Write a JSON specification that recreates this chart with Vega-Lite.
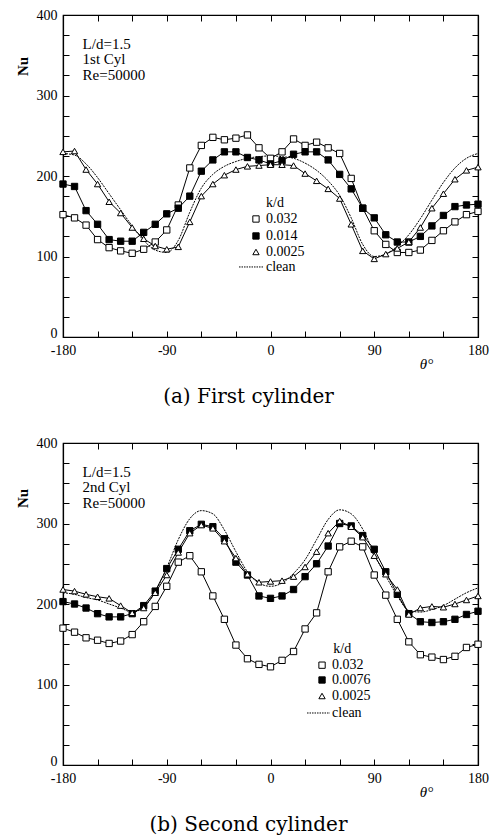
{
"$schema": "https://vega.github.io/schema/vega-lite/v6.json",
"background": "white",
"padding": {"left": 14, "top": 7, "right": 2, "bottom": 5},
"config": {
  "font": "Liberation Serif",
  "view": {"stroke": "black", "strokeWidth": 1.2},
  "axis": {"domainColor": "black", "tickColor": "black", "labelColor": "black", "titleColor": "black", "grid": false, "tickWidth": 1, "domainWidth": 1.2, "labelFontSize": 14, "labelFontWeight": "normal"},
  "title": {"color": "black"}
},
"datasets": {
"d": [
{"p":"a","s":"0.032","t":-180,"n":152},{"p":"a","s":"0.032","t":-170,"n":148},{"p":"a","s":"0.032","t":-160,"n":139},{"p":"a","s":"0.032","t":-150,"n":121},{"p":"a","s":"0.032","t":-140,"n":111},{"p":"a","s":"0.032","t":-130,"n":107},{"p":"a","s":"0.032","t":-120,"n":104},{"p":"a","s":"0.032","t":-110,"n":109},{"p":"a","s":"0.032","t":-100,"n":118},{"p":"a","s":"0.032","t":-90,"n":133},{"p":"a","s":"0.032","t":-80,"n":164},{"p":"a","s":"0.032","t":-70,"n":210},{"p":"a","s":"0.032","t":-60,"n":238},{"p":"a","s":"0.032","t":-50,"n":248},{"p":"a","s":"0.032","t":-40,"n":245},{"p":"a","s":"0.032","t":-30,"n":247},{"p":"a","s":"0.032","t":-20,"n":251},{"p":"a","s":"0.032","t":-10,"n":235},{"p":"a","s":"0.032","t":0,"n":222},{"p":"a","s":"0.032","t":10,"n":230},{"p":"a","s":"0.032","t":20,"n":246},{"p":"a","s":"0.032","t":30,"n":238},{"p":"a","s":"0.032","t":40,"n":242},{"p":"a","s":"0.032","t":50,"n":235},{"p":"a","s":"0.032","t":60,"n":228},{"p":"a","s":"0.032","t":70,"n":197},{"p":"a","s":"0.032","t":80,"n":160},{"p":"a","s":"0.032","t":90,"n":132},{"p":"a","s":"0.032","t":100,"n":115},{"p":"a","s":"0.032","t":110,"n":105},{"p":"a","s":"0.032","t":120,"n":105},{"p":"a","s":"0.032","t":130,"n":108},{"p":"a","s":"0.032","t":140,"n":120},{"p":"a","s":"0.032","t":150,"n":132},{"p":"a","s":"0.032","t":160,"n":143},{"p":"a","s":"0.032","t":170,"n":152},{"p":"a","s":"0.032","t":180,"n":156},
{"p":"a","s":"0.014","t":-180,"n":190},{"p":"a","s":"0.014","t":-170,"n":187},{"p":"a","s":"0.014","t":-160,"n":157},{"p":"a","s":"0.014","t":-150,"n":140},{"p":"a","s":"0.014","t":-140,"n":121},{"p":"a","s":"0.014","t":-130,"n":119},{"p":"a","s":"0.014","t":-120,"n":119},{"p":"a","s":"0.014","t":-110,"n":130},{"p":"a","s":"0.014","t":-100,"n":140},{"p":"a","s":"0.014","t":-90,"n":153},{"p":"a","s":"0.014","t":-80,"n":160},{"p":"a","s":"0.014","t":-70,"n":175},{"p":"a","s":"0.014","t":-60,"n":206},{"p":"a","s":"0.014","t":-50,"n":220},{"p":"a","s":"0.014","t":-40,"n":230},{"p":"a","s":"0.014","t":-30,"n":230},{"p":"a","s":"0.014","t":-20,"n":223},{"p":"a","s":"0.014","t":-10,"n":220},{"p":"a","s":"0.014","t":0,"n":215},{"p":"a","s":"0.014","t":10,"n":219},{"p":"a","s":"0.014","t":20,"n":227},{"p":"a","s":"0.014","t":30,"n":230},{"p":"a","s":"0.014","t":40,"n":230},{"p":"a","s":"0.014","t":50,"n":220},{"p":"a","s":"0.014","t":60,"n":202},{"p":"a","s":"0.014","t":70,"n":184},{"p":"a","s":"0.014","t":80,"n":160},{"p":"a","s":"0.014","t":90,"n":148},{"p":"a","s":"0.014","t":100,"n":127},{"p":"a","s":"0.014","t":110,"n":118},{"p":"a","s":"0.014","t":120,"n":118},{"p":"a","s":"0.014","t":130,"n":125},{"p":"a","s":"0.014","t":140,"n":138},{"p":"a","s":"0.014","t":150,"n":151},{"p":"a","s":"0.014","t":160,"n":162},{"p":"a","s":"0.014","t":170,"n":164},{"p":"a","s":"0.014","t":180,"n":165},
{"p":"a","s":"0.0025","t":-180,"n":230},{"p":"a","s":"0.0025","t":-170,"n":231},{"p":"a","s":"0.0025","t":-160,"n":208},{"p":"a","s":"0.0025","t":-150,"n":190},{"p":"a","s":"0.0025","t":-140,"n":168},{"p":"a","s":"0.0025","t":-130,"n":154},{"p":"a","s":"0.0025","t":-120,"n":136},{"p":"a","s":"0.0025","t":-110,"n":122},{"p":"a","s":"0.0025","t":-100,"n":113},{"p":"a","s":"0.0025","t":-90,"n":109},{"p":"a","s":"0.0025","t":-80,"n":112},{"p":"a","s":"0.0025","t":-70,"n":143},{"p":"a","s":"0.0025","t":-60,"n":175},{"p":"a","s":"0.0025","t":-50,"n":190},{"p":"a","s":"0.0025","t":-40,"n":201},{"p":"a","s":"0.0025","t":-30,"n":208},{"p":"a","s":"0.0025","t":-20,"n":212},{"p":"a","s":"0.0025","t":-10,"n":213},{"p":"a","s":"0.0025","t":0,"n":214},{"p":"a","s":"0.0025","t":10,"n":214},{"p":"a","s":"0.0025","t":20,"n":213},{"p":"a","s":"0.0025","t":30,"n":203},{"p":"a","s":"0.0025","t":40,"n":194},{"p":"a","s":"0.0025","t":50,"n":184},{"p":"a","s":"0.0025","t":60,"n":172},{"p":"a","s":"0.0025","t":70,"n":140},{"p":"a","s":"0.0025","t":80,"n":107},{"p":"a","s":"0.0025","t":90,"n":97},{"p":"a","s":"0.0025","t":100,"n":103},{"p":"a","s":"0.0025","t":110,"n":110},{"p":"a","s":"0.0025","t":120,"n":118},{"p":"a","s":"0.0025","t":130,"n":136},{"p":"a","s":"0.0025","t":140,"n":160},{"p":"a","s":"0.0025","t":150,"n":178},{"p":"a","s":"0.0025","t":160,"n":196},{"p":"a","s":"0.0025","t":170,"n":207},{"p":"a","s":"0.0025","t":180,"n":211},
{"p":"a","s":"clean","t":-180,"n":228},{"p":"a","s":"clean","t":-170,"n":226},{"p":"a","s":"clean","t":-160,"n":215},{"p":"a","s":"clean","t":-150,"n":198},{"p":"a","s":"clean","t":-140,"n":178},{"p":"a","s":"clean","t":-130,"n":158},{"p":"a","s":"clean","t":-120,"n":138},{"p":"a","s":"clean","t":-110,"n":120},{"p":"a","s":"clean","t":-100,"n":108},{"p":"a","s":"clean","t":-90,"n":105},{"p":"a","s":"clean","t":-80,"n":120},{"p":"a","s":"clean","t":-70,"n":155},{"p":"a","s":"clean","t":-60,"n":185},{"p":"a","s":"clean","t":-50,"n":202},{"p":"a","s":"clean","t":-40,"n":212},{"p":"a","s":"clean","t":-30,"n":218},{"p":"a","s":"clean","t":-20,"n":222},{"p":"a","s":"clean","t":-10,"n":224},{"p":"a","s":"clean","t":0,"n":225},{"p":"a","s":"clean","t":10,"n":224},{"p":"a","s":"clean","t":20,"n":222},{"p":"a","s":"clean","t":30,"n":216},{"p":"a","s":"clean","t":40,"n":207},{"p":"a","s":"clean","t":50,"n":194},{"p":"a","s":"clean","t":60,"n":176},{"p":"a","s":"clean","t":70,"n":148},{"p":"a","s":"clean","t":80,"n":115},{"p":"a","s":"clean","t":90,"n":100},{"p":"a","s":"clean","t":100,"n":103},{"p":"a","s":"clean","t":110,"n":113},{"p":"a","s":"clean","t":120,"n":127},{"p":"a","s":"clean","t":130,"n":147},{"p":"a","s":"clean","t":140,"n":170},{"p":"a","s":"clean","t":150,"n":192},{"p":"a","s":"clean","t":160,"n":210},{"p":"a","s":"clean","t":170,"n":222},{"p":"a","s":"clean","t":180,"n":228},
{"p":"b","s":"0.032","t":-180,"n":170},{"p":"b","s":"0.032","t":-170,"n":165},{"p":"b","s":"0.032","t":-160,"n":158},{"p":"b","s":"0.032","t":-150,"n":155},{"p":"b","s":"0.032","t":-140,"n":151},{"p":"b","s":"0.032","t":-130,"n":154},{"p":"b","s":"0.032","t":-120,"n":162},{"p":"b","s":"0.032","t":-110,"n":178},{"p":"b","s":"0.032","t":-100,"n":197},{"p":"b","s":"0.032","t":-90,"n":222},{"p":"b","s":"0.032","t":-80,"n":252},{"p":"b","s":"0.032","t":-70,"n":260},{"p":"b","s":"0.032","t":-60,"n":240},{"p":"b","s":"0.032","t":-50,"n":210},{"p":"b","s":"0.032","t":-40,"n":181},{"p":"b","s":"0.032","t":-30,"n":149},{"p":"b","s":"0.032","t":-20,"n":132},{"p":"b","s":"0.032","t":-10,"n":125},{"p":"b","s":"0.032","t":0,"n":122},{"p":"b","s":"0.032","t":10,"n":130},{"p":"b","s":"0.032","t":20,"n":141},{"p":"b","s":"0.032","t":30,"n":169},{"p":"b","s":"0.032","t":40,"n":189},{"p":"b","s":"0.032","t":50,"n":240},{"p":"b","s":"0.032","t":60,"n":271},{"p":"b","s":"0.032","t":70,"n":278},{"p":"b","s":"0.032","t":80,"n":271},{"p":"b","s":"0.032","t":90,"n":236},{"p":"b","s":"0.032","t":100,"n":211},{"p":"b","s":"0.032","t":110,"n":181},{"p":"b","s":"0.032","t":120,"n":153},{"p":"b","s":"0.032","t":130,"n":137},{"p":"b","s":"0.032","t":140,"n":134},{"p":"b","s":"0.032","t":150,"n":131},{"p":"b","s":"0.032","t":160,"n":135},{"p":"b","s":"0.032","t":170,"n":146},{"p":"b","s":"0.032","t":180,"n":150},
{"p":"b","s":"0.0076","t":-180,"n":203},{"p":"b","s":"0.0076","t":-170,"n":200},{"p":"b","s":"0.0076","t":-160,"n":195},{"p":"b","s":"0.0076","t":-150,"n":188},{"p":"b","s":"0.0076","t":-140,"n":184},{"p":"b","s":"0.0076","t":-130,"n":184},{"p":"b","s":"0.0076","t":-120,"n":188},{"p":"b","s":"0.0076","t":-110,"n":198},{"p":"b","s":"0.0076","t":-100,"n":216},{"p":"b","s":"0.0076","t":-90,"n":244},{"p":"b","s":"0.0076","t":-80,"n":268},{"p":"b","s":"0.0076","t":-70,"n":291},{"p":"b","s":"0.0076","t":-60,"n":299},{"p":"b","s":"0.0076","t":-50,"n":296},{"p":"b","s":"0.0076","t":-40,"n":281},{"p":"b","s":"0.0076","t":-30,"n":252},{"p":"b","s":"0.0076","t":-20,"n":236},{"p":"b","s":"0.0076","t":-10,"n":210},{"p":"b","s":"0.0076","t":0,"n":207},{"p":"b","s":"0.0076","t":10,"n":210},{"p":"b","s":"0.0076","t":20,"n":218},{"p":"b","s":"0.0076","t":30,"n":234},{"p":"b","s":"0.0076","t":40,"n":250},{"p":"b","s":"0.0076","t":50,"n":272},{"p":"b","s":"0.0076","t":60,"n":300},{"p":"b","s":"0.0076","t":70,"n":297},{"p":"b","s":"0.0076","t":80,"n":285},{"p":"b","s":"0.0076","t":90,"n":268},{"p":"b","s":"0.0076","t":100,"n":240},{"p":"b","s":"0.0076","t":110,"n":212},{"p":"b","s":"0.0076","t":120,"n":188},{"p":"b","s":"0.0076","t":130,"n":178},{"p":"b","s":"0.0076","t":140,"n":177},{"p":"b","s":"0.0076","t":150,"n":178},{"p":"b","s":"0.0076","t":160,"n":181},{"p":"b","s":"0.0076","t":170,"n":187},{"p":"b","s":"0.0076","t":180,"n":191},
{"p":"b","s":"0.0025","t":-180,"n":218},{"p":"b","s":"0.0025","t":-170,"n":216},{"p":"b","s":"0.0025","t":-160,"n":212},{"p":"b","s":"0.0025","t":-150,"n":209},{"p":"b","s":"0.0025","t":-140,"n":207},{"p":"b","s":"0.0025","t":-130,"n":198},{"p":"b","s":"0.0025","t":-120,"n":189},{"p":"b","s":"0.0025","t":-110,"n":195},{"p":"b","s":"0.0025","t":-100,"n":214},{"p":"b","s":"0.0025","t":-90,"n":236},{"p":"b","s":"0.0025","t":-80,"n":264},{"p":"b","s":"0.0025","t":-70,"n":288},{"p":"b","s":"0.0025","t":-60,"n":298},{"p":"b","s":"0.0025","t":-50,"n":294},{"p":"b","s":"0.0025","t":-40,"n":278},{"p":"b","s":"0.0025","t":-30,"n":257},{"p":"b","s":"0.0025","t":-20,"n":237},{"p":"b","s":"0.0025","t":-10,"n":227},{"p":"b","s":"0.0025","t":0,"n":228},{"p":"b","s":"0.0025","t":10,"n":229},{"p":"b","s":"0.0025","t":20,"n":234},{"p":"b","s":"0.0025","t":30,"n":246},{"p":"b","s":"0.0025","t":40,"n":265},{"p":"b","s":"0.0025","t":50,"n":288},{"p":"b","s":"0.0025","t":60,"n":303},{"p":"b","s":"0.0025","t":70,"n":296},{"p":"b","s":"0.0025","t":80,"n":283},{"p":"b","s":"0.0025","t":90,"n":260},{"p":"b","s":"0.0025","t":100,"n":237},{"p":"b","s":"0.0025","t":110,"n":218},{"p":"b","s":"0.0025","t":120,"n":187},{"p":"b","s":"0.0025","t":130,"n":195},{"p":"b","s":"0.0025","t":140,"n":197},{"p":"b","s":"0.0025","t":150,"n":196},{"p":"b","s":"0.0025","t":160,"n":200},{"p":"b","s":"0.0025","t":170,"n":205},{"p":"b","s":"0.0025","t":180,"n":210},
{"p":"b","s":"clean","t":-180,"n":214},{"p":"b","s":"clean","t":-170,"n":212},{"p":"b","s":"clean","t":-160,"n":208},{"p":"b","s":"clean","t":-150,"n":205},{"p":"b","s":"clean","t":-140,"n":200},{"p":"b","s":"clean","t":-130,"n":195},{"p":"b","s":"clean","t":-120,"n":190},{"p":"b","s":"clean","t":-110,"n":196},{"p":"b","s":"clean","t":-100,"n":215},{"p":"b","s":"clean","t":-90,"n":245},{"p":"b","s":"clean","t":-80,"n":280},{"p":"b","s":"clean","t":-70,"n":306},{"p":"b","s":"clean","t":-60,"n":316},{"p":"b","s":"clean","t":-50,"n":312},{"p":"b","s":"clean","t":-40,"n":292},{"p":"b","s":"clean","t":-30,"n":265},{"p":"b","s":"clean","t":-20,"n":240},{"p":"b","s":"clean","t":-10,"n":226},{"p":"b","s":"clean","t":0,"n":222},{"p":"b","s":"clean","t":10,"n":226},{"p":"b","s":"clean","t":20,"n":238},{"p":"b","s":"clean","t":30,"n":255},{"p":"b","s":"clean","t":40,"n":280},{"p":"b","s":"clean","t":50,"n":305},{"p":"b","s":"clean","t":60,"n":317},{"p":"b","s":"clean","t":70,"n":312},{"p":"b","s":"clean","t":80,"n":293},{"p":"b","s":"clean","t":90,"n":262},{"p":"b","s":"clean","t":100,"n":235},{"p":"b","s":"clean","t":110,"n":210},{"p":"b","s":"clean","t":120,"n":192},{"p":"b","s":"clean","t":130,"n":190},{"p":"b","s":"clean","t":140,"n":193},{"p":"b","s":"clean","t":150,"n":198},{"p":"b","s":"clean","t":160,"n":206},{"p":"b","s":"clean","t":170,"n":214},{"p":"b","s":"clean","t":180,"n":220}
],
"notes": [
{"p":"a","lab":"L/d=1.5","t":-163,"n":364},{"p":"a","lab":"1st  Cyl","t":-163,"n":345},{"p":"a","lab":"Re=50000","t":-163,"n":326},
{"p":"b","lab":"L/d=1.5","t":-163,"n":364},{"p":"b","lab":"2nd  Cyl","t":-163,"n":345},{"p":"b","lab":"Re=50000","t":-163,"n":326}
],
"legs": [
{"p":"a","s":"0.032","t":-12.6,"n":146.6},{"p":"a","s":"0.014","t":-12.6,"n":125.5},{"p":"a","s":"0.0025","t":-12.6,"n":105.6},
{"p":"b","s":"0.032","t":44.7,"n":124},{"p":"b","s":"0.0076","t":44.7,"n":105.6},{"p":"b","s":"0.0025","t":44.7,"n":85.7}
],
"legl": [
{"p":"a","lab":"k/d","t":-3.9,"n":166.5},{"p":"a","lab":"0.032","t":-3.9,"n":146.6},{"p":"a","lab":"0.014","t":-3.9,"n":125.5},{"p":"a","lab":"0.0025","t":-3.9,"n":105.6},{"p":"a","lab":"clean","t":-3.9,"n":87},
{"p":"b","lab":"k/d","t":54.5,"n":144},{"p":"b","lab":"0.032","t":53.4,"n":124},{"p":"b","lab":"0.0076","t":53.4,"n":105.6},{"p":"b","lab":"0.0025","t":53.4,"n":85.7},{"p":"b","lab":"clean","t":53.4,"n":64.6}
],
"legc": [
{"p":"a","t":-27.3,"t2":-5.6,"n":87},
{"p":"b","t":31.7,"t2":51.6,"n":64.6}
]
},
"spacing": 27,
"resolve": {"scale": {"shape": "independent", "fill": "independent"}},
"vconcat": [
{
 "width": 415, "height": 322,
 "title": {"text": "(a)  First cylinder", "orient": "bottom", "font": "DejaVu Serif", "fontSize": 20, "fontWeight": "normal", "offset": 16, "dx": -22},
 "resolve": {"axis": {"x": "independent", "y": "independent"}},
 "layer": [
  {"data": {"name": "d"}, "transform": [{"filter": "datum.p === 'a' && datum.s !== 'clean'"}],
   "mark": {"type": "line", "stroke": "black", "strokeWidth": 1},
   "encoding": {
    "x": {"field": "t", "type": "quantitative", "scale": {"domain": [-180, 180], "nice": false, "zero": false},
      "axis": {"orient": "bottom", "values": [-180,-150,-120,-90,-60,-30,0,30,60,90,120,150,180], "labelExpr": "datum.value % 90 === 0 ? '' + datum.value : ''", "tickSize": -6, "labelPadding": 12, "labelFlush": false, "labelOverlap": false, "title": "θ°", "titleFontStyle": "italic", "titleFontWeight": "normal", "titleFontSize": 15, "titleX": 363, "titleY": 26, "titleBaseline": "middle", "titleAlign": "center"}},
    "y": {"field": "n", "type": "quantitative", "scale": {"domain": [0, 400], "nice": false},
      "axis": {"orient": "left", "values": [0,25,50,75,100,125,150,175,200,225,250,275,300,325,350,375,400], "labelExpr": "datum.value % 100 === 0 ? datum.label : ''", "labelBaseline": {"condition": {"test": "datum.value === 0", "value": "alphabetic"}, "value": "middle"}, "tickSize": -6, "labelPadding": 12, "labelOverlap": false, "title": "Nu", "titleFontWeight": "bold", "titleFontSize": 15, "titleY": 51, "titleAlign": "center", "titlePadding": 6}},
    "detail": {"field": "s"}
   }},
  {"data": {"name": "d"}, "transform": [{"filter": "datum.p === 'a' && datum.s === 'clean'"}],
   "mark": {"type": "line", "stroke": "black", "strokeWidth": 1, "strokeDash": [2, 1], "interpolate": "monotone"},
   "encoding": {
    "x": {"field": "t", "type": "quantitative", "axis": {"orient": "top", "values": [-180,-150,-120,-90,-60,-30,0,30,60,90,120,150,180], "labels": false, "tickSize": -6, "title": null}},
    "y": {"field": "n", "type": "quantitative", "axis": {"orient": "right", "values": [0,25,50,75,100,125,150,175,200,225,250,275,300,325,350,375,400], "labels": false, "tickSize": -6, "title": null}}
   }},
  {"data": {"name": "d"}, "transform": [{"filter": "datum.p === 'a' && datum.s !== 'clean'"}],
   "mark": {"type": "point", "filled": true, "stroke": "black", "strokeWidth": 1, "size": 40, "opacity": 1},
   "encoding": {
    "x": {"field": "t", "type": "quantitative", "axis": null},
    "y": {"field": "n", "type": "quantitative", "axis": null},
    "shape": {"field": "s", "type": "nominal", "scale": {"domain": ["0.032", "0.014", "0.0025"], "range": ["square", "square", "triangle-up"]}, "legend": null},
    "fill": {"field": "s", "type": "nominal", "scale": {"domain": ["0.032", "0.014", "0.0025"], "range": ["white", "black", "white"]}, "legend": null}
   }},
  {"data": {"name": "legs"}, "transform": [{"filter": "datum.p === 'a'"}],
   "mark": {"type": "point", "filled": true, "stroke": "black", "strokeWidth": 1, "size": 40, "opacity": 1},
   "encoding": {
    "x": {"field": "t", "type": "quantitative", "axis": null},
    "y": {"field": "n", "type": "quantitative", "axis": null},
    "shape": {"field": "s", "type": "nominal", "legend": null},
    "fill": {"field": "s", "type": "nominal", "legend": null}
   }},
  {"data": {"name": "legc"}, "transform": [{"filter": "datum.p === 'a'"}],
   "mark": {"type": "rule", "stroke": "black", "strokeWidth": 1, "strokeDash": [1.5, 1]},
   "encoding": {
    "x": {"field": "t", "type": "quantitative", "axis": null},
    "x2": {"field": "t2"},
    "y": {"field": "n", "type": "quantitative", "axis": null}
   }},
  {"data": {"name": "legl"}, "transform": [{"filter": "datum.p === 'a'"}],
   "mark": {"type": "text", "align": "left", "baseline": "middle", "fontSize": 14, "color": "black"},
   "encoding": {
    "x": {"field": "t", "type": "quantitative", "axis": null},
    "y": {"field": "n", "type": "quantitative", "axis": null},
    "text": {"field": "lab"}
   }},
  {"data": {"name": "notes"}, "transform": [{"filter": "datum.p === 'a'"}],
   "mark": {"type": "text", "align": "left", "baseline": "middle", "fontSize": 15, "color": "black"},
   "encoding": {
    "x": {"field": "t", "type": "quantitative", "axis": null},
    "y": {"field": "n", "type": "quantitative", "axis": null},
    "text": {"field": "lab"}
   }}
 ]
},
{
 "width": 415, "height": 322,
 "title": {"text": "(b)  Second cylinder", "orient": "bottom", "font": "DejaVu Serif", "fontSize": 20, "fontWeight": "normal", "offset": 16, "dx": -22},
 "resolve": {"axis": {"x": "independent", "y": "independent"}},
 "layer": [
  {"data": {"name": "d"}, "transform": [{"filter": "datum.p === 'b' && datum.s !== 'clean'"}],
   "mark": {"type": "line", "stroke": "black", "strokeWidth": 1},
   "encoding": {
    "x": {"field": "t", "type": "quantitative", "scale": {"domain": [-180, 180], "nice": false, "zero": false},
      "axis": {"orient": "bottom", "values": [-180,-150,-120,-90,-60,-30,0,30,60,90,120,150,180], "labelExpr": "datum.value % 90 === 0 ? '' + datum.value : ''", "tickSize": -6, "labelPadding": 12, "labelFlush": false, "labelOverlap": false, "title": "θ°", "titleFontStyle": "italic", "titleFontWeight": "normal", "titleFontSize": 15, "titleX": 363, "titleY": 26, "titleBaseline": "middle", "titleAlign": "center"}},
    "y": {"field": "n", "type": "quantitative", "scale": {"domain": [0, 400], "nice": false},
      "axis": {"orient": "left", "values": [0,25,50,75,100,125,150,175,200,225,250,275,300,325,350,375,400], "labelExpr": "datum.value % 100 === 0 ? datum.label : ''", "labelBaseline": {"condition": {"test": "datum.value === 0", "value": "alphabetic"}, "value": "middle"}, "tickSize": -6, "labelPadding": 12, "labelOverlap": false, "title": "Nu", "titleFontWeight": "bold", "titleFontSize": 15, "titleY": 55, "titleAlign": "center", "titlePadding": 6}},
    "detail": {"field": "s"}
   }},
  {"data": {"name": "d"}, "transform": [{"filter": "datum.p === 'b' && datum.s === 'clean'"}],
   "mark": {"type": "line", "stroke": "black", "strokeWidth": 1, "strokeDash": [2, 1], "interpolate": "monotone"},
   "encoding": {
    "x": {"field": "t", "type": "quantitative", "axis": {"orient": "top", "values": [-180,-150,-120,-90,-60,-30,0,30,60,90,120,150,180], "labels": false, "tickSize": -6, "title": null}},
    "y": {"field": "n", "type": "quantitative", "axis": {"orient": "right", "values": [0,25,50,75,100,125,150,175,200,225,250,275,300,325,350,375,400], "labels": false, "tickSize": -6, "title": null}}
   }},
  {"data": {"name": "d"}, "transform": [{"filter": "datum.p === 'b' && datum.s !== 'clean'"}],
   "mark": {"type": "point", "filled": true, "stroke": "black", "strokeWidth": 1, "size": 40, "opacity": 1},
   "encoding": {
    "x": {"field": "t", "type": "quantitative", "axis": null},
    "y": {"field": "n", "type": "quantitative", "axis": null},
    "shape": {"field": "s", "type": "nominal", "scale": {"domain": ["0.032", "0.0076", "0.0025"], "range": ["square", "square", "triangle-up"]}, "legend": null},
    "fill": {"field": "s", "type": "nominal", "scale": {"domain": ["0.032", "0.0076", "0.0025"], "range": ["white", "black", "white"]}, "legend": null}
   }},
  {"data": {"name": "legs"}, "transform": [{"filter": "datum.p === 'b'"}],
   "mark": {"type": "point", "filled": true, "stroke": "black", "strokeWidth": 1, "size": 40, "opacity": 1},
   "encoding": {
    "x": {"field": "t", "type": "quantitative", "axis": null},
    "y": {"field": "n", "type": "quantitative", "axis": null},
    "shape": {"field": "s", "type": "nominal", "legend": null},
    "fill": {"field": "s", "type": "nominal", "legend": null}
   }},
  {"data": {"name": "legc"}, "transform": [{"filter": "datum.p === 'b'"}],
   "mark": {"type": "rule", "stroke": "black", "strokeWidth": 1, "strokeDash": [1.5, 1]},
   "encoding": {
    "x": {"field": "t", "type": "quantitative", "axis": null},
    "x2": {"field": "t2"},
    "y": {"field": "n", "type": "quantitative", "axis": null}
   }},
  {"data": {"name": "legl"}, "transform": [{"filter": "datum.p === 'b'"}],
   "mark": {"type": "text", "align": "left", "baseline": "middle", "fontSize": 14, "color": "black"},
   "encoding": {
    "x": {"field": "t", "type": "quantitative", "axis": null},
    "y": {"field": "n", "type": "quantitative", "axis": null},
    "text": {"field": "lab"}
   }},
  {"data": {"name": "notes"}, "transform": [{"filter": "datum.p === 'b'"}],
   "mark": {"type": "text", "align": "left", "baseline": "middle", "fontSize": 15, "color": "black"},
   "encoding": {
    "x": {"field": "t", "type": "quantitative", "axis": null},
    "y": {"field": "n", "type": "quantitative", "axis": null},
    "text": {"field": "lab"}
   }}
 ]
}
]
}
